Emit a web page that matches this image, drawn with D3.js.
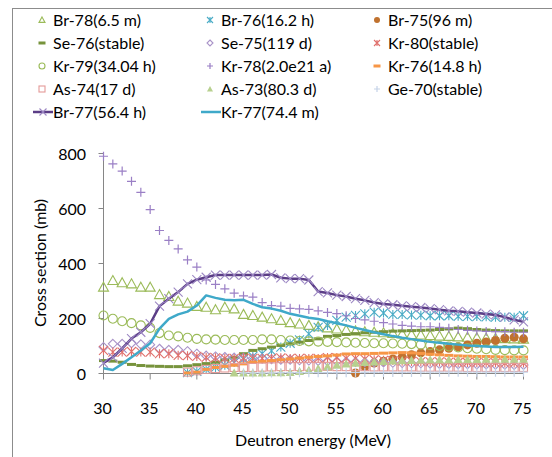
<!DOCTYPE html>
<html><head><meta charset="utf-8">
<script src="https://cdn.jsdelivr.net/npm/d3@7"></script>
<style>
body{margin:0;background:#fff;}
svg text{font-family:Lato,"Liberation Sans",sans-serif;fill:#000;}
</style></head>
<body><svg id="c" width="552" height="457"></svg>
<script>
const energies = [30,31,32,33,34,35,36,37,38,39,40,41,42,43,44,45,46,47,48,49,50,51,52,53,54,55,56,57,58,59,60,61,62,63,64,65,66,67,68,69,70,71,72,73,74,75];
const br78 = [314,338,330,326,314,314,287,280,263,256,244,241,232,241,235,215,211,205,199,193,185,180,175,170,166,162,158,155,152,150,148,146,144,142,140,138,136,135,133,132,130,129,128,127,126,125];
const br76 = [null,null,null,null,null,null,null,null,null,3,8,15,22,30,40,52,62,72,82,96,110,122,144,168,175,193,205,211,217,223,220,215,215,213,212,210,210,210,208,208,207,206,205,205,205,210];
const br75 = [null,null,null,null,null,null,null,null,null,null,null,null,null,null,null,null,null,null,null,null,null,null,null,null,null,null,null,2,25,38,45,53,60,68,75,80,86,92,97,104,110,115,120,128,132,126];
const se76 = [47,45,41,33,29,27,26,25,25,28,32,36,41,50,59,72,84,90,96,102,108,114,120,126,135,138,142,145,148,150,152,154,155,156,157,158,160,162,165,163,160,158,156,155,155,155];
const se75 = [96,108,108,110,106,105,90,86,86,81,72,65,62,60,58,57,55,54,52,50,50,48,47,46,45,44,43,42,41,40,40,39,38,37,37,36,35,35,34,34,33,33,32,32,31,31];
const kr80 = [84,78,78,80,78,78,72,72,66,65,62,59,57,55,55,57,55,55,55,57,55,55,55,55,58,58,55,55,52,50,48,47,45,44,43,42,42,41,40,40,40,39,39,38,38,38];
const kr79 = [211,199,190,183,175,166,147,138,135,130,126,124,123,122,122,122,122,124,124,122,120,118,117,116,115,114,113,112,111,110,110,109,108,107,105,103,100,98,95,92,90,88,86,85,84,84];
const kr78 = [790,762,736,699,659,596,520,484,453,413,387,340,324,308,292,282,278,258,247,245,237,235,233,228,222,218,210,200,195,190,185,180,175,172,170,170,168,165,160,157,155,153,152,152,150,150];
const kr76 = [null,null,null,null,null,null,null,null,null,2,5,15,22,26,30,35,41,44,47,50,53,56,59,62,64,67,71,72,72,73,74,75,76,75,73,70,68,66,64,63,62,62,61,60,60,60];
const as74 = [null,null,null,null,null,null,null,null,null,5,10,15,18,20,22,22,22,23,24,25,25,25,26,26,26,25,25,25,25,24,24,24,24,24,23,23,23,23,23,22,22,22,22,22,22,22];
const as73 = [null,null,null,null,null,null,null,null,null,null,null,null,null,null,2,2,2,2,3,3,4,8,12,18,25,30,35,38,40,42,44,46,47,48,49,50,50,50,51,51,51,52,52,52,52,52];
const ge70 = [null,null,null,null,null,null,null,null,null,null,null,null,null,null,null,2,2,2,2,3,3,3,3,3,3,3,3,4,4,4,4,4,4,4,5,5,5,5,5,5,5,5,5,5,5,5];
const br77 = [38,59,91,127,150,181,245,272,296,326,341,350,358,358,358,358,358,358,360,348,345,345,340,298,293,285,280,272,266,258,253,250,246,243,240,236,232,228,226,223,220,216,213,205,195,188];
const kr77 = [19,13,35,59,84,110,163,199,215,225,247,284,275,268,266,268,253,241,236,228,217,210,203,198,190,183,175,166,158,150,143,136,130,125,120,115,112,108,105,102,100,98,96,96,96,97];

const xTicks = [30,35,40,45,50,55,60,65,70,75];
const yTicks = [0,200,400,600,800];

const series = [
  {name:"Br-78(6.5 m)", data:br78, marker:"triOpen", color:"#9bbb59"},
  {name:"Br-76(16.2 h)", data:br76, marker:"star", color:"#4bacc6"},
  {name:"Br-75(96 m)", data:br75, marker:"dot", color:"#c0722f"},
  {name:"Se-76(stable)", data:se76, marker:"dash", color:"#77933c"},
  {name:"Se-75(119 d)", data:se75, marker:"diamond", color:"#a993c8"},
  {name:"Kr-80(stable)", data:kr80, marker:"xstar", color:"#e0706c"},
  {name:"Kr-79(34.04 h)", data:kr79, marker:"circle", color:"#9bbb59"},
  {name:"Kr-78(2.0e21 a)", data:kr78, marker:"plus", color:"#9a7fc5"},
  {name:"Kr-76(14.8 h)", data:kr76, marker:"dash", color:"#f79646"},
  {name:"As-74(17 d)", data:as74, marker:"square", color:"#e49a98"},
  {name:"As-73(80.3 d)", data:as73, marker:"triFill", color:"#b7d08e"},
  {name:"Ge-70(stable)", data:ge70, marker:"plus", color:"#c5d3e8"},
  {name:"Br-77(56.4 h)", data:br77, marker:"line", color:"#5b3d86", lw:2.5, mk:"x"},
  {name:"Kr-77(74.4 m)", data:kr77, marker:"line", color:"#3fa9c9", lw:2.5}
];

const svg = d3.select("#c");
svg.append("rect").attr("x",12.5).attr("y",8.5).attr("width",600).attr("height",500)
  .attr("fill","none").attr("stroke","#8c8c8c").attr("stroke-width",1);

const x = d3.scaleLinear().domain([30,75]).range([103.5,523.5]);
const y = d3.scaleLinear().domain([0,800]).range([373.5,153.5]);

function drawMarker(g, type, color, s){
  const h = s/2;
  switch(type){
    case "triOpen": g.append("path").attr("d",`M0,${-h}L${h},${h*0.8}L${-h},${h*0.8}Z`).attr("fill","none").attr("stroke",color).attr("stroke-width",1.1); break;
    case "triFill": g.append("path").attr("d",`M0,${-h}L${h},${h*0.8}L${-h},${h*0.8}Z`).attr("fill",color); break;
    case "star": g.append("path").attr("d",`M${-h},${-h}L${h},${h}M${-h},${h}L${h},${-h}M0,${-h}L0,${h}`).attr("stroke",color).attr("stroke-width",1.1); break;
    case "xstar": g.append("path").attr("d",`M${-h},${-h}L${h},${h}M${-h},${h}L${h},${-h}M0,${-h}L0,${h}`).attr("stroke",color).attr("stroke-width",1.1); break;
    case "x": g.append("path").attr("d",`M${-h},${-h}L${h},${h}M${-h},${h}L${h},${-h}`).attr("stroke",color).attr("stroke-width",1.1); break;
    case "dot": g.append("circle").attr("r",h).attr("fill",color); break;
    case "circle": g.append("circle").attr("r",h).attr("fill","none").attr("stroke",color).attr("stroke-width",1.1); break;
    case "dash": g.append("rect").attr("x",-h).attr("y",-1.5).attr("width",s).attr("height",3).attr("fill",color); break;
    case "diamond": g.append("path").attr("d",`M0,${-h}L${h},0L0,${h}L${-h},0Z`).attr("fill","none").attr("stroke",color).attr("stroke-width",1.1); break;
    case "plus": g.append("path").attr("d",`M${-h},0L${h},0M0,${-h}L0,${h}`).attr("stroke",color).attr("stroke-width",1.2); break;
    case "square": g.append("rect").attr("x",-h).attr("y",-h).attr("width",s).attr("height",s).attr("fill","none").attr("stroke",color).attr("stroke-width",1.1); break;
  }
}

// axes
const ax = svg.append("g").attr("stroke","#868686").attr("stroke-width",1).attr("fill","none");
ax.append("line").attr("x1",x(30)).attr("x2",x(30)).attr("y1",y(800)).attr("y2",y(0));
ax.append("line").attr("x1",x(30)).attr("x2",x(75)).attr("y1",y(0)).attr("y2",y(0));
yTicks.forEach(t=>ax.append("line").attr("x1",x(30)-5).attr("x2",x(30)).attr("y1",y(t)).attr("y2",y(t)));
xTicks.forEach(t=>ax.append("line").attr("x1",x(t)).attr("x2",x(t)).attr("y1",y(0)).attr("y2",y(0)+6));

// markers
const sizes = {triOpen:10, triFill:9, star:9, xstar:9, dot:9, circle:9, dash:9, diamond:9, plus:9, square:8};
const plot = svg.append("g");
series.filter(s=>s.marker!=="line").forEach(s=>{
  energies.forEach((e,i)=>{
    const v = s.data[i];
    if(v===null) return;
    const g = plot.append("g").attr("transform",`translate(${x(e)},${y(v)})`);
    drawMarker(g, s.marker, s.color, sizes[s.marker]);
  });
});
// lines
series.filter(s=>s.marker==="line").forEach(s=>{
  const pts = energies.map((e,i)=>[e,s.data[i]]).filter(d=>d[1]!==null);
  plot.append("path").datum(pts).attr("fill","none").attr("stroke",s.color).attr("stroke-width",s.lw)
    .attr("stroke-linejoin","round")
    .attr("d",d3.line().x(d=>x(d[0])).y(d=>y(d[1])));
  if(s.mk){
    pts.forEach(d=>{
      const g = plot.append("g").attr("transform",`translate(${x(d[0])},${y(d[1])})`);
      drawMarker(g, s.mk, "#9d88c4", 9);
    });
  }
});

// tick labels
const tl = svg.append("g").attr("font-size",16);
yTicks.forEach(t=>tl.append("text").attr("x",86).attr("y",y(t)+6).attr("text-anchor","end").text(t));
xTicks.forEach(t=>tl.append("text").attr("x",x(t)-1).attr("y",414).attr("text-anchor","middle").text(t));

svg.append("text").attr("x",313).attr("y",446).attr("text-anchor","middle").attr("font-size",16).text("Deutron energy (MeV)");
svg.append("text").attr("transform","translate(46,263) rotate(-90)").attr("text-anchor","middle").attr("font-size",16).text("Cross section (mb)");

// legend
const colX = [42, 210, 377];
const rowY = [20, 43, 66, 89, 112];
const lg = svg.append("g");
series.forEach((s,i)=>{
  const c = i%3, r = Math.floor(i/3);
  const cx = colX[c], cy = rowY[r];
  if(s.marker==="line"){
    lg.append("line").attr("x1",cx-9).attr("x2",cx+11).attr("y1",cy).attr("y2",cy).attr("stroke",s.color).attr("stroke-width",s.lw);
    if(s.mk){ const g=lg.append("g").attr("transform",`translate(${cx+1},${cy})`); drawMarker(g,s.mk,"#9d88c4",7); }
    lg.append("text").attr("x",cx+11).attr("y",cy+6).attr("font-size",16).text(s.name);
  } else {
    const g = lg.append("g").attr("transform",`translate(${cx},${cy})`);
    drawMarker(g, s.marker, s.color, s.marker==="dash"?7:6);
    lg.append("text").attr("x",cx+11).attr("y",cy+6).attr("font-size",16).text(s.name);
  }
});
</script></body></html>
